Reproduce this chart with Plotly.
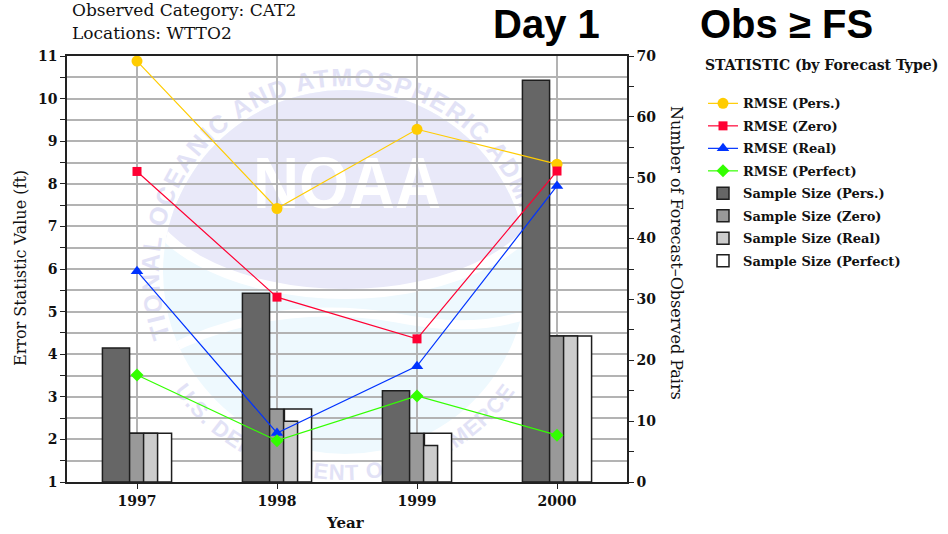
import base64
import math
import plotly.graph_objects as go

# ---- data -------------------------------------------------------------
years = [1997, 1998, 1999, 2000]
year_labels = ["1997", "1998", "1999", "2000"]

# RMSE by forecast type (ft)
rmse_pers = [10.88, 7.42, 9.28, 8.46]
rmse_zero = [8.29, 5.34, 4.36, 8.30]
rmse_real = [5.95, 2.15, 3.72, 7.95]
rmse_perfect = [3.51, 1.97, 3.02, 2.10]

# number of forecast-observed pairs
n_pers = [22, 31, 15, 66]
n_zero = [8, 12, 8, 24]
n_real = [8, 10, 6, 24]
n_perfect = [8, 12, 8, 24]

left_ticks = list(range(1, 12))
right_ticks = list(range(0, 71, 10))

# ---- geometry helpers (plot area in pixels) ---------------------------
W, H = 948, 534
L, R, T, B = 67, 627, 56, 482


def px(x):
    return (x - L) / (R - L)


def py(y):
    return (B - y) / (B - T)


SERIF = "DejaVu Serif"

# ---- faint agency seal drawn behind the grid ---------------------------
pw, ph = R - L, B - T
cx, cy = 278, 216


def arc_pt(r, deg):
    a = math.radians(deg)
    return cx + r * math.cos(a), cy - r * math.sin(a)


r_top = 186
s = arc_pt(r_top, 200)
e = arc_pt(r_top, -20)
top_path = f"M {s[0]:.1f} {s[1]:.1f} A {r_top} {r_top} 0 1 1 {e[0]:.1f} {e[1]:.1f}"
r_bot = 208
s2 = arc_pt(r_bot, 216)
e2 = arc_pt(r_bot, 324)
bot_path = f"M {s2[0]:.1f} {s2[1]:.1f} A {r_bot} {r_bot} 0 0 0 {e2[0]:.1f} {e2[1]:.1f}"

seal_svg = f"""<svg xmlns="http://www.w3.org/2000/svg" width="{pw}" height="{ph}" viewBox="0 0 {pw} {ph}" preserveAspectRatio="none">
<defs>
<clipPath id="disc"><circle cx="{cx}" cy="{cy}" r="182"/></clipPath>
<path id="tp" d="{top_path}"/>
<path id="bp" d="{bot_path}"/>
</defs>
<circle cx="{cx}" cy="{cy}" r="182" fill="#eef9fe"/>
<g clip-path="url(#disc)">
<ellipse cx="{cx}" cy="126" rx="205" ry="112" fill="#e9e9f9" stroke="#ffffff" stroke-width="10"/>
<path d="M 90 300 Q 200 240 330 262 Q 420 280 480 250" fill="none" stroke="#ffffff" stroke-width="9"/>
</g>
<text x="{cx + 2}" y="152" text-anchor="middle" font-family="Liberation Sans" font-weight="bold" font-size="72" fill="#ffffff" textLength="188" lengthAdjust="spacingAndGlyphs">NOAA</text>
<text font-family="Liberation Sans" font-weight="bold" font-size="25" fill="#e2e2f6" letter-spacing="1.5">
<textPath href="#tp" startOffset="50%" text-anchor="middle">NATIONAL OCEANIC AND ATMOSPHERIC ADMINISTRATION</textPath></text>
<text font-family="Liberation Sans" font-weight="bold" font-size="22" fill="#e2e2f6" letter-spacing="1">
<textPath href="#bp" startOffset="50%" text-anchor="middle">U.S. DEPARTMENT OF COMMERCE</textPath></text>
</svg>"""
seal_uri = "data:image/svg+xml;base64," + base64.b64encode(seal_svg.encode()).decode()

fig = go.Figure()

# ---- sample-size bars (right axis) -------------------------------------
bar_w = 0.194
bar_specs = [
    ("Sample Size (Perfect)", n_perfect, "#ffffff", 0.053, 8),
    ("Sample Size (Real)", n_real, "#cccccc", -0.047, 7),
    ("Sample Size (Zero)", n_zero, "#999999", -0.147, 6),
    ("Sample Size (Pers.)", n_pers, "#666666", -0.247, 5),
]
for name, vals, color, off, rank in bar_specs:
    fig.add_trace(go.Bar(
        x=years, y=vals, name=name, width=bar_w, offset=off,
        marker=dict(color=color, line=dict(color="#1e1e1e", width=1.5)),
        yaxis="y", legendrank=rank, legendgroup=name,
    ))

# ---- RMSE lines (left axis) ----------------------------------------------
line_specs = [
    ("RMSE (Pers.)", rmse_pers, "#ffcc00", "circle", 11, 1),
    ("RMSE (Zero)", rmse_zero, "#ff0033", "square", 9, 2),
    ("RMSE (Real)", rmse_real, "#0033ff", "triangle-up", 11, 3),
    ("RMSE (Perfect)", rmse_perfect, "#33ff00", "diamond", 10, 4),
]
for name, vals, color, sym, size, rank in line_specs:
    fig.add_trace(go.Scatter(
        x=years, y=vals, name=name, mode="lines+markers",
        line=dict(color=color, width=1.2),
        marker=dict(color=color, symbol=sym, size=size, line=dict(width=0)),
        yaxis="y2", legendrank=rank, legendgroup=name,
    ))

grid_col = "#b3b3b3"
axis_col = "#222222"
tick_font = dict(family=SERIF, size=14, color="#111111", weight="bold")

fig.update_layout(
    width=W, height=H,
    margin=dict(l=L, r=W - R, t=T, b=H - B, pad=0, autoexpand=False),
    paper_bgcolor="#ffffff",
    plot_bgcolor="rgba(0,0,0,0)",
    barmode="overlay",
    showlegend=True,
    xaxis=dict(
        range=[1996.5, 2000.5], tickvals=years, ticktext=year_labels,
        showgrid=True, gridcolor=grid_col, gridwidth=1.5,
        showline=True, linecolor=axis_col, linewidth=1.5, mirror=True,
        ticks="outside", ticklen=5, tickcolor=axis_col, tickfont=tick_font,
        zeroline=False,
    ),
    yaxis=dict(
        side="right", range=[0, 70], tickvals=right_ticks,
        showgrid=False, showline=True, linecolor=axis_col, linewidth=1.5,
        ticks="outside", ticklen=5, tickcolor=axis_col, tickfont=tick_font,
        minor=dict(dtick=5, ticks="outside", ticklen=5, tickcolor=axis_col, showgrid=False),
        zeroline=False,
    ),
    yaxis2=dict(
        overlaying="y", side="left", anchor="x", range=[1, 11], tickvals=left_ticks,
        showgrid=True, gridcolor=grid_col, gridwidth=1.5,
        showline=True, linecolor=axis_col, linewidth=1.5,
        ticks="outside", ticklen=5, tickcolor=axis_col, tickfont=tick_font,
        minor=dict(dtick=0.5, ticks="outside", ticklen=5, tickcolor=axis_col,
                   showgrid=True, gridcolor=grid_col, gridwidth=1.5),
        zeroline=False,
    ),
    legend=dict(
        x=px(703), y=py(52), xanchor="left", yanchor="top",
        font=dict(family=SERIF, size=13, color="#111111", weight="bold"),
        title=dict(text="STATISTIC (by Forecast Type)<br><span style='font-size:3px'> </span>",
                   font=dict(family=SERIF, size=14, color="#111111", weight="bold")),
        bgcolor="rgba(0,0,0,0)", tracegroupgap=2.6, itemwidth=30,
    ),
    images=[dict(
        source=seal_uri, xref="paper", yref="paper", x=0, y=1,
        sizex=1, sizey=1, xanchor="left", yanchor="top",
        sizing="stretch", layer="below", opacity=1,
    )],
)

annotations = [
    dict(text="Observed Category: CAT2", x=px(70), y=py(10), xanchor="left", yanchor="middle",
         font=dict(family=SERIF, size=17, color="#111111")),
    dict(text="Locations: WTTO2", x=px(70), y=py(33), xanchor="left", yanchor="middle",
         font=dict(family=SERIF, size=17, color="#111111")),
    dict(text="Day 1", x=px(546), y=py(0), xanchor="center", yanchor="top",
         font=dict(family="Liberation Sans", size=40, color="#000000", weight="bold")),
    dict(text="Obs ≥ FS", x=px(698), y=py(0), xanchor="left", yanchor="top",
         font=dict(family="Liberation Sans", size=40, color="#000000", weight="bold")),
    dict(text="Year", x=px(345), y=py(523), xanchor="center", yanchor="middle",
         font=dict(family=SERIF, size=15, color="#111111", weight="bold")),
    dict(text="Error Statistic Value (ft)", x=px(20), y=py(268), xanchor="center", yanchor="middle",
         textangle=-90, font=dict(family=SERIF, size=16, color="#111111")),
    dict(text="Number of Forecast–Observed Pairs", x=px(677), y=py(253), xanchor="center",
         yanchor="middle", textangle=90, font=dict(family=SERIF, size=16, color="#111111")),
]
for a in annotations:
    a.update(xref="paper", yref="paper", showarrow=False)
fig.update_layout(annotations=annotations)

fig.write_html("out.html")
